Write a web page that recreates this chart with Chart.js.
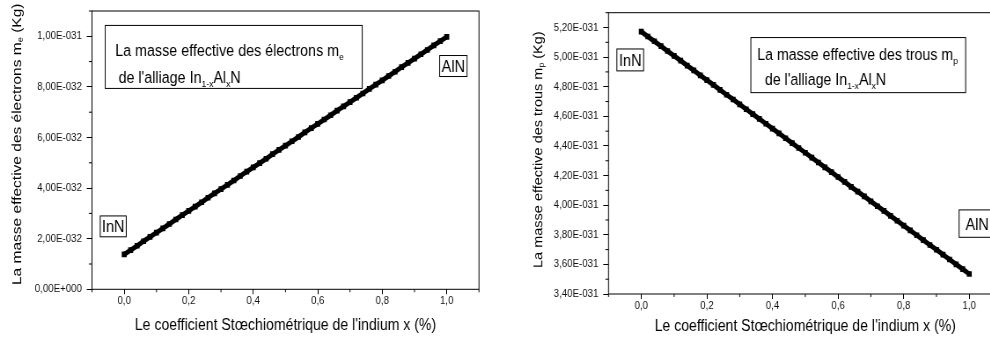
<!DOCTYPE html>
<html>
<head>
<meta charset="utf-8">
<script src="https://cdn.jsdelivr.net/npm/chart.js@4.4.1/dist/chart.umd.min.js"></script>
<style>
html, body { margin: 0; padding: 0; background: #fff; overflow: hidden; width: 990px; height: 338px; }
.panel { position: absolute; top: 0; transform-origin: 0 0; transform: scaleX(0.88); }
#p1 { left: 0; }
#p2 { left: 500px; }
canvas { display: block; }
</style>
</head>
<body>
<div class="panel" id="p1"><canvas id="c1" width="562" height="338"></canvas></div>
<div class="panel" id="p2"><canvas id="c2" width="590" height="338"></canvas></div>
<script>
// x : coefficient stoechiometrique
const xValues = [0, 0.02, 0.04, 0.06, 0.08, 0.10, 0.12, 0.14, 0.16, 0.18,
  0.20, 0.22, 0.24, 0.26, 0.28, 0.30, 0.32, 0.34, 0.36, 0.38,
  0.40, 0.42, 0.44, 0.46, 0.48, 0.50, 0.52, 0.54, 0.56, 0.58,
  0.60, 0.62, 0.64, 0.66, 0.68, 0.70, 0.72, 0.74, 0.76, 0.78,
  0.80, 0.82, 0.84, 0.86, 0.88, 0.90, 0.92, 0.94, 0.96, 0.98, 1.00];

// masse effective des electrons, en 1E-031 kg
const electronMass = [0.138, 0.155, 0.172, 0.190, 0.207, 0.224, 0.241, 0.258, 0.276, 0.293,
  0.310, 0.327, 0.344, 0.362, 0.379, 0.396, 0.413, 0.430, 0.448, 0.465,
  0.482, 0.499, 0.516, 0.534, 0.551, 0.568, 0.585, 0.602, 0.620, 0.637,
  0.654, 0.671, 0.688, 0.706, 0.723, 0.740, 0.757, 0.774, 0.792, 0.809,
  0.826, 0.843, 0.860, 0.878, 0.895, 0.912, 0.929, 0.946, 0.964, 0.981, 0.998];

// masse effective des trous, en 1E-031 kg
const holeMass = [5.172, 5.139, 5.107, 5.074, 5.041, 5.008, 4.976, 4.943, 4.910, 4.877,
  4.845, 4.812, 4.779, 4.746, 4.714, 4.681, 4.648, 4.615, 4.583, 4.550,
  4.517, 4.485, 4.452, 4.419, 4.386, 4.354, 4.321, 4.288, 4.255, 4.223,
  4.190, 4.157, 4.124, 4.092, 4.059, 4.026, 3.993, 3.961, 3.928, 3.895,
  3.862, 3.830, 3.797, 3.764, 3.731, 3.699, 3.666, 3.633, 3.600, 3.568, 3.535];

const xTicks = [0, 0.2, 0.4, 0.6, 0.8, 1.0];
const electronTicks = [0, 0.2, 0.4, 0.6, 0.8, 1.0];
const holeTicks = [3.4, 3.6, 3.8, 4.0, 4.2, 4.4, 4.6, 4.8, 5.0, 5.2];

const xTitle = "Le coefficient Stœchiométrique de l'indium x (%)";
const FONT = '"Liberation Sans", Arial, Helvetica, sans-serif';

function fmtX(v) {
  return v.toFixed(1).replace('.', ',');
}

// v est en 1E-031 kg -> "1,00E-031"
function fmtMass(v) {
  if (Math.abs(v) < 1e-9) return '0,00E+000';
  let e = Math.floor(Math.log10(v) + 1e-9);
  let m = v / Math.pow(10, e);
  let exp = e - 31;
  return m.toFixed(2).replace('.', ',') + 'E' + (exp < 0 ? '-' : '+') + String(Math.abs(exp)).padStart(3, '0');
}

function drawRich(ctx, segs, x, y, size) {
  for (const s of segs) {
    const fs = s.sub ? size * 0.6 : size;
    ctx.font = fs + 'px ' + FONT;
    ctx.fillText(s.t, x, s.sub ? y + size * 0.25 : y);
    x += ctx.measureText(s.t).width;
  }
  return x;
}

function richWidth(ctx, segs, size) {
  let w = 0;
  for (const s of segs) {
    ctx.font = (s.sub ? size * 0.6 : size) + 'px ' + FONT;
    w += ctx.measureText(s.t).width;
  }
  return w;
}

// taille de police pour que le texte fasse la largeur voulue
function fitSize(ctx, text, width) {
  ctx.font = '100px ' + FONT;
  return 100 * width / ctx.measureText(text).width;
}

function minorValues(scale) {
  const t = scale.ticks.map(k => k.value);
  const half = (t[1] - t[0]) / 2;
  const out = [];
  for (let v = t[0] - half; v <= scale.max + 1e-9; v += 2 * half) {
    if (v >= scale.min - 1e-9) out.push(v);
  }
  return out;
}

const alloy = [{t: "de l'alliage In"}, {t: '1-x', sub: true}, {t: 'Al'}, {t: 'x', sub: true}, {t: 'N'}];

const decorById = {
  c1: {
    yTitle: {x: 19.9, y: 285, size: 15.5,
      segs: [{t: 'La masse effective des électrons m'}, {t: 'e', sub: true}, {t: ' (Kg)'}]},
    boxes: [
      {x1: -0.059, x2: 0.738, y1: 1.043, y2: 0.794, fitW: 254.5, lines: [
        {dx: 11.4, dy: 31, segs: [{t: 'La masse effective des électrons m'}, {t: 'e', sub: true}]},
        {dx: 15.1, dy: 58, segs: alloy}]},
      {x1: -0.0744, x2: 0.0062, y1: 0.290, y2: 0.2075, size: 16.5, center: [{t: 'InN'}]},
      {x1: 0.978, x2: 1.063, y1: 0.924, y2: 0.841, size: 16.5, center: [{t: 'AlN'}]}
    ]
  },
  c2: {
    yTitle: {x: 44.3, y: 268, size: 14.5,
      segs: [{t: 'La masse effective des trous m'}, {t: 'p', sub: true}, {t: ' (Kg)'}]},
    boxes: [
      {x1: 0.334, x2: 0.989, y1: 5.132, y2: 4.760, fitW: 222.7, lines: [
        {dx: 7.2, dy: 22.3, segs: [{t: 'La masse effective des trous m'}, {t: 'p', sub: true}]},
        {dx: 15.9, dy: 47.3, segs: alloy}]},
      {x1: -0.0745, x2: 0.007, y1: 5.055, y2: 4.907, size: 16.5, center: [{t: 'InN'}]},
      {x1: 0.969, x2: 1.079, y1: 3.968, y2: 3.783, size: 16.5, center: [{t: 'AlN'}]}
    ]
  }
};

const decorPlugin = {
  id: 'decor',
  afterDraw(chart) {
    const o = decorById[chart.canvas.id];
    const ctx = chart.ctx, a = chart.chartArea;
    const xs = chart.scales.x, ys = chart.scales.y;
    ctx.save();
    ctx.strokeStyle = '#000';
    ctx.lineWidth = 1;
    ctx.strokeRect(a.left, a.top, a.right - a.left, a.bottom - a.top);

    // petites graduations
    ctx.beginPath();
    for (const v of minorValues(xs)) {
      const p = xs.getPixelForValue(v);
      ctx.moveTo(p, a.bottom);
      ctx.lineTo(p, a.bottom + 3);
    }
    for (const v of minorValues(ys)) {
      const p = ys.getPixelForValue(v);
      ctx.moveTo(a.left, p);
      ctx.lineTo(a.left - 3.5, p);
    }
    ctx.stroke();

    // titre de l'axe y (avec indice)
    ctx.fillStyle = '#000';
    ctx.save();
    ctx.translate(o.yTitle.x, o.yTitle.y);
    ctx.rotate(-Math.PI / 2);
    ctx.textBaseline = 'middle';
    ctx.textAlign = 'left';
    drawRich(ctx, o.yTitle.segs, 0, 0, o.yTitle.size);
    ctx.restore();

    // cadres de texte
    ctx.textAlign = 'left';
    ctx.textBaseline = 'alphabetic';
    for (const b of o.boxes) {
      const x1 = xs.getPixelForValue(b.x1), x2 = xs.getPixelForValue(b.x2);
      const y1 = ys.getPixelForValue(b.y1), y2 = ys.getPixelForValue(b.y2);
      ctx.fillStyle = '#fff';
      ctx.fillRect(x1, y1, x2 - x1, y2 - y1);
      ctx.strokeRect(x1, y1, x2 - x1, y2 - y1);
      ctx.fillStyle = '#000';
      if (b.lines) {
        const size = fitSize(ctx, b.lines[0].segs[0].t, b.fitW);
        for (const line of b.lines) drawRich(ctx, line.segs, x1 + line.dx, y1 + line.dy, size);
      }
      if (b.center) {
        const w = richWidth(ctx, b.center, b.size);
        drawRich(ctx, b.center, (x1 + x2) / 2 - w / 2, (y1 + y2) / 2 + b.size * 0.36, b.size);
      }
    }
    ctx.restore();
  }
};

function makeChart(id, values, yTicks, yMin, yMax, pad, yWidth, xHeight, xTitlePad) {
  return new Chart(document.getElementById(id), {
    type: 'line',
    data: {
      datasets: [{
        data: xValues.map((x, i) => ({x: x, y: values[i]})),
        borderColor: '#000',
        backgroundColor: '#000',
        borderWidth: 5,
        pointStyle: 'rect',
        pointRadius: 4,
        pointBorderWidth: 0,
        fill: false,
        tension: 0
      }]
    },
    options: {
      responsive: false,
      animation: false,
      events: [],
      layout: {padding: pad},
      plugins: {legend: {display: false}, tooltip: {enabled: false}},
      scales: {
        x: {
          type: 'linear', min: -0.1, max: 1.1,
          afterBuildTicks: s => { s.ticks = xTicks.map(v => ({value: v})); },
          afterFit: s => { s.height = xHeight; },
          grid: {drawOnChartArea: false, tickLength: 5, tickColor: '#000'},
          border: {display: false},
          ticks: {callback: v => fmtX(v), font: {size: 11, family: FONT}, color: '#111', padding: 0, maxRotation: 0, autoSkip: false},
          title: {display: true, text: xTitle, font: {size: 16, family: FONT}, color: '#000', padding: {top: 0, bottom: xTitlePad}}
        },
        y: {
          type: 'linear', min: yMin, max: yMax,
          afterBuildTicks: s => { s.ticks = yTicks.map(v => ({value: v})); },
          afterFit: s => { s.width = yWidth; },
          grid: {drawOnChartArea: false, tickLength: 6, tickColor: '#000'},
          border: {display: false},
          ticks: {callback: v => fmtMass(v), font: {size: 11, family: FONT, lineHeight: 1}, color: '#111', padding: 5.5, autoSkip: false}
        }
      }
    },
    plugins: [decorPlugin]
  });
}

makeChart('c1', electronMass, electronTicks, 0, 1.1, {left: 0, top: 11, right: 17.7, bottom: 0}, 104.5, 48.7, 3);
makeChart('c2', holeMass, holeTicks, 3.4, 5.3, {left: 0, top: 12.7, right: 19.5, bottom: 0}, 123.3, 44, 2);
</script>
</body>
</html>
